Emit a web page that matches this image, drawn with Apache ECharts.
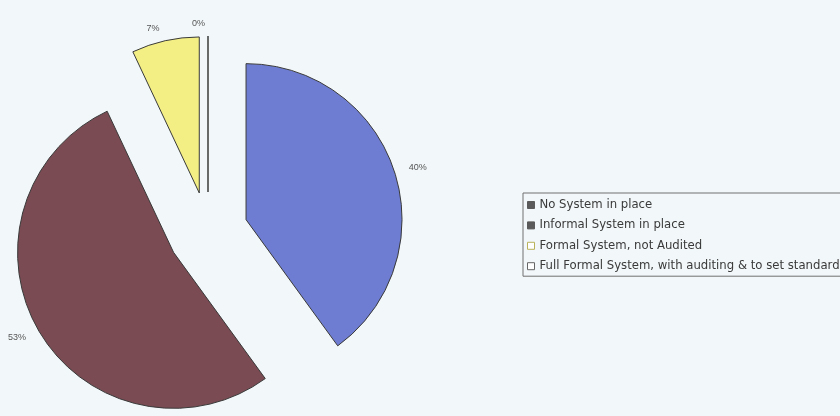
<!DOCTYPE html>
<html>
<head>
<meta charset="utf-8">
<script src="https://cdn.jsdelivr.net/npm/echarts@6/dist/echarts.min.js"></script>
<style>
  html, body { margin: 0; padding: 0; background: #f2f7f9; }
  #chart { width: 840px; height: 416px; }
</style>
</head>
<body>
<div id="chart"></div>
<script>
// Share of organisations by type of system in place (percent)
const categories = [
  'No System in place',
  'Informal System in place',
  'Formal System, not Audited',
  'Full Formal System, with auditing & to set standards'
];
const shares = [40, 53, 7, 0];
const sliceColors = ['#6e7dd2', '#7a4b53', '#f3ef84', '#ffffff'];
// legend swatches as printed (dark filled / outlined boxes)
const legendFill = ['#5a5a5a', '#5a5a5a', '#ffffff', '#ffffff'];
const legendBorder = ['#5a5a5a', '#5a5a5a', '#b9b25a', '#666666'];

const chart = echarts.init(document.getElementById('chart'), null, { renderer: 'canvas' });

const data = categories.map((name, i) => ({
  name,
  value: shares[i],
  selected: true,
  itemStyle: { color: sliceColors[i] },
  select: { itemStyle: { color: sliceColors[i], borderColor: '#3a3a3a', borderWidth: 1 } }
}));

chart.setOption({
  backgroundColor: '#f2f7f9',
  animation: false,
  legend: {
    orient: 'vertical',
    left: 523,
    top: 193,
    padding: [6, 6, 4, 4],
    itemWidth: 7,
    itemHeight: 7,
    itemGap: 8.4,
    borderColor: '#707070',
    borderWidth: 1,
    icon: 'rect',
    textStyle: {
      fontFamily: 'DejaVu Sans, sans-serif',
      fontSize: 11.7,
      color: '#3a3a3a',
      padding: [0, 0, 0, 0]
    },
    data: categories.map((name, i) => ({
      name,
      itemStyle: { color: legendFill[i], borderColor: legendBorder[i], borderWidth: 1 }
    }))
  },
  series: [{
    type: 'pie',
    center: [208, 232],
    radius: 156,
    startAngle: 90,
    clockwise: true,
    selectedMode: 'multiple',
    selectedOffset: 40,
    avoidLabelOverlap: false,
    stillShowZeroSum: true,
    itemStyle: { borderColor: '#3a3a3a', borderWidth: 1 },
    emphasis: { disabled: true },
    label: {
      show: true,
      position: 'outside',
      formatter: '{c}%',
      fontFamily: 'Liberation Sans, Arial, sans-serif',
      fontSize: 9,
      color: '#555555',
      distanceToLabelLine: 3
    },
    labelLine: { show: false, length: 12, length2: 0 },
    data
  }]
});
</script>
</body>
</html>
